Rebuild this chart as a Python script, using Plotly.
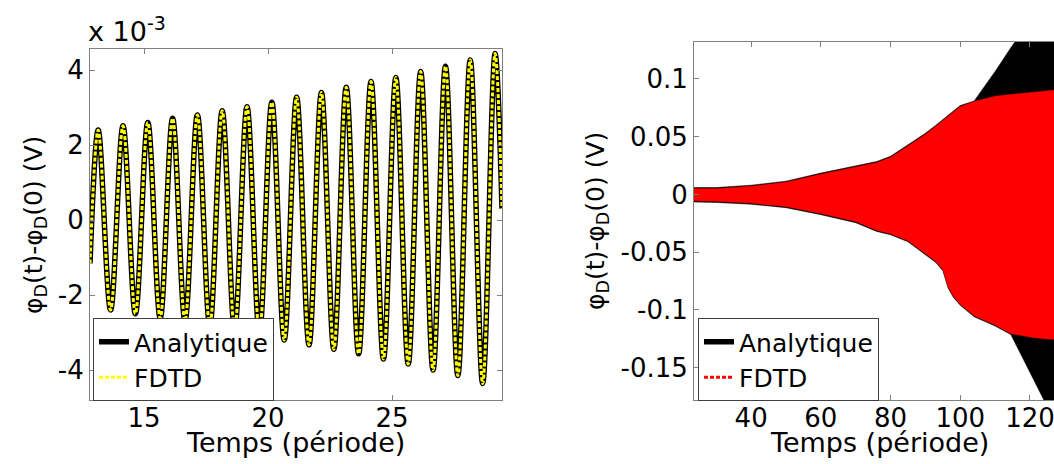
import plotly.graph_objects as go

# ---------------- Left panel data (values in units of 1e-3 V) ----------------
left_peak_t = [13.15, 14.15, 15.15, 16.15, 17.15, 18.15, 19.15, 20.15, 21.15,
               22.15, 23.15, 24.15, 25.15, 26.15, 27.15, 28.15, 29.15]
left_peak_v = [2.40, 2.51, 2.60, 2.71, 2.80, 2.91, 3.02, 3.14, 3.27,
               3.40, 3.54, 3.69, 3.80, 3.96, 4.10, 4.27, 4.44]
left_trough_t = [13.65, 14.65, 15.65, 16.65, 17.65, 18.65, 19.65, 20.65,
                 21.65, 22.65, 23.65, 24.65, 25.65, 26.65, 27.65, 28.65]
left_trough_v = [-2.40, -2.50, -2.62, -2.70, -2.83, -2.93, -3.02, -3.20,
                 -3.33, -3.45, -3.57, -3.71, -3.84, -4.00, -4.15, -4.36]
left_edge_t = [12.82, 29.43]
left_edge_v = [-1.16, 0.30]

left_xticks = [15, 20, 25]
left_yticks = [-4, -2, 0, 2, 4]
left_yticklabels = ["-4", "-2", "0", "2", "4"]

# ---------------- Right panel data (envelopes, V) ----------------
env_t = [23.6, 30, 40, 50, 60, 70, 76, 80, 85, 90, 93, 95, 96.5, 98, 100,
         104, 110, 114.5, 116.3, 120, 124, 127.5]
fdtd_upper = [0.0050, 0.0050, 0.0070, 0.0105, 0.0175, 0.0235, 0.0275, 0.0320,
              0.0420, 0.0520, 0.0590, 0.0640, 0.0675, 0.0715, 0.0760,
              0.0805, 0.0850, 0.0865, 0.0870, 0.0880, 0.0890, 0.0905]
fdtd_lower = [-0.0055, -0.0060, -0.0075, -0.0105, -0.0165, -0.0235, -0.0310,
              -0.0340, -0.0400, -0.0510, -0.0580, -0.0650, -0.0800, -0.0880,
              -0.0950, -0.1050, -0.1130, -0.1205, -0.1215, -0.1235, -0.1250,
              -0.1255]
analytic_upper = [0.0060, 0.0060, 0.0080, 0.0115, 0.0185, 0.0245, 0.0285,
                  0.0330, 0.0430, 0.0530, 0.0600, 0.0650, 0.0685, 0.0725,
                  0.0770, 0.0810, 0.1065, 0.1270, 0.1340, 0.1500, 0.1670,
                  0.1810]
analytic_lower = [-0.0065, -0.0070, -0.0085, -0.0115, -0.0175, -0.0245,
                  -0.0320, -0.0350, -0.0410, -0.0520, -0.0590, -0.0660,
                  -0.0810, -0.0890, -0.0960, -0.1060, -0.1140, -0.1213,
                  -0.1330, -0.1550, -0.1780, -0.1990]

right_xticks = [40, 60, 80, 100, 120]
right_yticks = [-0.15, -0.1, -0.05, 0, 0.05, 0.1]
right_yticklabels = ["-0.15", "-0.1", "-0.05", "0", "0.05", "0.1"]

FONT = "DejaVu Sans, Liberation Sans, Arial, sans-serif"
AXIS_GRAY = "#808080"

# combine extrema of the left panel in time order
pts = sorted(zip(left_peak_t + left_trough_t + left_edge_t,
                 left_peak_v + left_trough_v + left_edge_v))
lt = [p[0] for p in pts]
lv = [p[1] for p in pts]

fig = go.Figure()

# Left panel
fig.add_trace(go.Scatter(x=lt, y=lv, mode="lines", name="Analytique",
                         line=dict(color="black", width=5.5, shape="spline", smoothing=1.0),
                         xaxis="x", yaxis="y", legend="legend"))
fig.add_trace(go.Scatter(x=lt, y=lv, mode="lines", name="FDTD",
                         line=dict(color="#ffff00", width=3, shape="spline", smoothing=1.0,
                                   dash="4px,2px"),
                         xaxis="x", yaxis="y", legend="legend"))

# Right panel: envelopes as filled bands
fig.add_trace(go.Scatter(x=env_t + env_t[::-1], y=analytic_upper + analytic_lower[::-1],
                         mode="lines", fill="toself", fillcolor="black",
                         line=dict(color="black", width=0.5), showlegend=False,
                         hoverinfo="skip", xaxis="x2", yaxis="y2"))
fig.add_trace(go.Scatter(x=env_t + env_t[::-1], y=fdtd_upper + fdtd_lower[::-1],
                         mode="lines", fill="toself", fillcolor="red",
                         line=dict(color="red", width=0.5), showlegend=False,
                         hoverinfo="skip", xaxis="x2", yaxis="y2"))
# legend entries for right panel
fig.add_trace(go.Scatter(x=[None], y=[None], mode="lines", name="Analytique",
                         line=dict(color="black", width=5.5),
                         xaxis="x2", yaxis="y2", legend="legend2"))
fig.add_trace(go.Scatter(x=[None], y=[None], mode="lines", name="FDTD",
                         line=dict(color="red", width=3, dash="4px,2px"),
                         xaxis="x2", yaxis="y2", legend="legend2"))

W, H = 1054, 464


def px_x(p):
    return p / W


def px_y(p):
    return (H - p) / H


axis_common = dict(showgrid=False, zeroline=False, showline=True, linecolor=AXIS_GRAY,
                   linewidth=1, ticks="inside", ticklen=5, tickcolor=AXIS_GRAY,
                   tickfont=dict(family=FONT, size=26, color="black"))

fig.update_layout(
    width=W, height=H, autosize=False,
    margin=dict(l=0, r=0, t=0, b=0),
    paper_bgcolor="white", plot_bgcolor="white",
    font=dict(family=FONT, color="black"),
    xaxis=dict(domain=[px_x(90), px_x(502)], range=[12.82, 29.43], tickvals=left_xticks,
               mirror="ticks", anchor="y", ticklabelstandoff=-5, **axis_common),
    yaxis=dict(domain=[px_y(400), px_y(49)], range=[-4.8, 4.56], tickvals=left_yticks,
               ticktext=left_yticklabels, mirror="ticks", anchor="x", **axis_common),
    xaxis2=dict(domain=[px_x(694), 1.0], range=[23.6, 126.9], tickvals=right_xticks,
                mirror="ticks", anchor="y2", ticklabelstandoff=-5,
                ticklabeloverflow="allow", **axis_common),
    yaxis2=dict(domain=[px_y(400), px_y(42)], range=[-0.178, 0.132], tickvals=right_yticks,
                ticktext=right_yticklabels, mirror=False, anchor="x2", **axis_common),
    legend=dict(x=px_x(93), y=px_y(318), xanchor="left", yanchor="top",
                bgcolor="white", bordercolor="#404040", borderwidth=1,
                font=dict(family=FONT, size=25, color="black"),
                tracegroupgap=0, itemwidth=30),
    legend2=dict(x=px_x(698), y=px_y(318), xanchor="left", yanchor="top",
                 bgcolor="white", bordercolor="#404040", borderwidth=1,
                 font=dict(family=FONT, size=25, color="black"),
                 tracegroupgap=0, itemwidth=30),
    showlegend=True,
)

ann_font = dict(family=FONT, size=27, color="black")
title_font = dict(family=FONT, size=25, color="black")
fig.add_annotation(text="x 10<sup>-3</sup>", xref="paper", yref="paper",
                   x=px_x(86), y=px_y(29), xanchor="left", yanchor="middle",
                   showarrow=False, font=dict(family=FONT, size=27, color="black"))
fig.add_annotation(text="Temps (période)", xref="paper", yref="paper",
                   x=px_x(295), y=px_y(442), xanchor="center", yanchor="middle",
                   showarrow=False, font=ann_font)
fig.add_annotation(text="Temps (période)", xref="paper", yref="paper",
                   x=px_x(879), y=px_y(442), xanchor="center", yanchor="middle",
                   showarrow=False, font=ann_font)
fig.add_annotation(text="φ<sub>D</sub>(t)-φ<sub>D</sub>(0) (V)", xref="paper", yref="paper",
                   x=px_x(35), y=px_y(225), xanchor="center", yanchor="middle",
                   textangle=-90, showarrow=False, font=title_font)
fig.add_annotation(text="φ<sub>D</sub>(t)-φ<sub>D</sub>(0) (V)", xref="paper", yref="paper",
                   x=px_x(597), y=px_y(221), xanchor="center", yanchor="middle",
                   textangle=-90, showarrow=False, font=title_font)

fig.write_html("out.html",
               config={"displayModeBar": False},
               post_script="document.body.style.margin='0';"
                           "document.body.style.overflow='hidden';")
